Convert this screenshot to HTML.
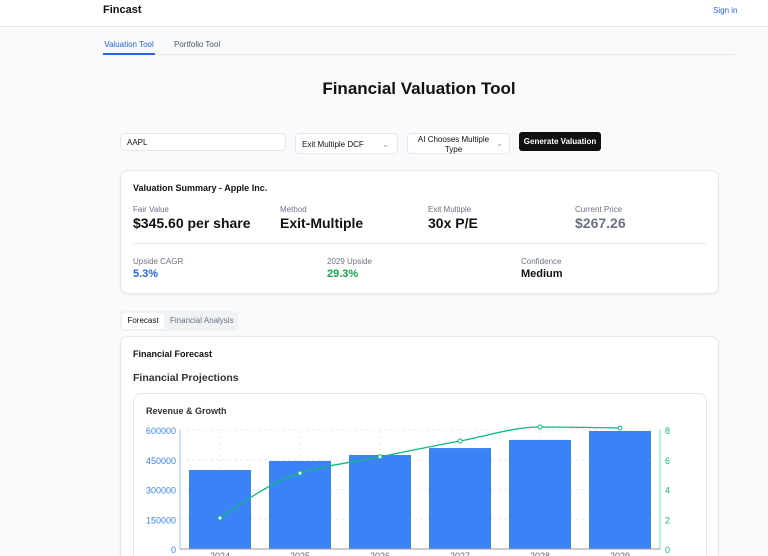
<!DOCTYPE html>
<html style="width:768px;height:556px;overflow:hidden"><head><meta charset="utf-8"><style>
*{box-sizing:border-box;margin:0;padding:0}
body{width:768px;height:556px;overflow:hidden;background:#f9fafb;font-family:"Liberation Sans",sans-serif;color:#111;position:relative}
.abs{position:absolute}
.header{left:0;top:0;width:768px;height:27px;background:#fff;border-bottom:1px solid #e5e7eb}
.card{background:#fff;border:1px solid #e5e7eb;border-radius:8px;box-shadow:0 1px 2px rgba(0,0,0,.06)}
.lbl{font-size:8px;color:#6b7280}
.val{font-size:14px;font-weight:bold}
.inp{background:#fff;border:1px solid #e5e7eb;border-radius:4px;font-size:8px;color:#111}
</style></head><body>
<div class="abs header">
<div class="abs" style="left:103px;top:4px;font-size:11px;font-weight:bold">Fincast</div>
<div class="abs" style="left:713px;top:6px;font-size:8px;color:#2563eb">Sign in</div>
</div>
<div class="abs" style="left:103px;top:54px;width:632px;height:1px;background:#e5e7eb"></div>
<div class="abs" style="left:103px;top:40px;width:52px;height:15px;border-bottom:2px solid #2563eb;font-size:8px;color:#2563eb;text-align:center">Valuation Tool</div>
<div class="abs" style="left:174px;top:40px;font-size:8px;color:#4b5563">Portfolio Tool</div>
<div class="abs" style="left:0;top:79px;width:838px;text-align:center;font-size:17px;font-weight:bold">Financial Valuation Tool</div>
<div class="abs inp" style="left:120px;top:133px;width:166px;height:18px;padding:4px 6px">AAPL</div>
<div class="abs inp" style="left:295px;top:133px;width:103px;height:21px;padding:6px 6px">Exit Multiple DCF<span style="position:absolute;right:8px;color:#999">⌄</span></div>
<div class="abs inp" style="left:407px;top:133px;width:103px;height:21px;padding:1px 16px 0 6px;text-align:center;line-height:10px">AI Chooses Multiple Type<span style="position:absolute;right:6px;top:5px;color:#999">⌄</span></div>
<div class="abs" style="left:519px;top:132px;width:82px;height:19px;background:#111;border-radius:3px;color:#fff;font-size:8px;font-weight:bold;text-align:center;line-height:19px">Generate Valuation</div>
<div class="abs card" style="left:120px;top:170px;width:599px;height:124px">
<div class="abs" style="left:12px;top:12px;font-size:9px;font-weight:bold">Valuation Summary - Apple Inc.</div>
<div class="abs lbl" style="left:12px;top:34px">Fair Value</div><div class="abs val" style="left:12px;top:44px">$345.60 per share</div>
<div class="abs lbl" style="left:159px;top:34px">Method</div><div class="abs val" style="left:159px;top:44px">Exit-Multiple</div>
<div class="abs lbl" style="left:307px;top:34px">Exit Multiple</div><div class="abs val" style="left:307px;top:44px">30x P/E</div>
<div class="abs lbl" style="left:454px;top:34px">Current Price</div><div class="abs val" style="left:454px;top:44px;color:#6b7280">$267.26</div>
<div class="abs" style="left:12px;top:72px;width:573px;height:1px;background:#e5e7eb"></div>
<div class="abs lbl" style="left:12px;top:86px">Upside CAGR</div><div class="abs" style="left:12px;top:97px;font-size:11px;font-weight:bold;color:#2563eb">5.3%</div>
<div class="abs lbl" style="left:206px;top:86px">2029 Upside</div><div class="abs" style="left:206px;top:97px;font-size:11px;font-weight:bold;color:#16a34a">29.3%</div>
<div class="abs lbl" style="left:400px;top:86px">Confidence</div><div class="abs" style="left:400px;top:97px;font-size:11px;font-weight:bold">Medium</div>
</div>
<div class="abs" style="left:120px;top:311px;width:118px;height:20px;background:#f1f2f4;border-radius:4px"></div>
<div class="abs" style="left:122px;top:313px;width:42px;height:16px;background:#fff;border-radius:3px;font-size:8px;text-align:center;line-height:16px">Forecast</div>
<div class="abs" style="left:170px;top:313px;font-size:8px;color:#6b7280;line-height:16px">Financial Analysis</div>
<div class="abs card" style="left:120px;top:336px;width:599px;height:220px;border-bottom:none;border-radius:8px 8px 0 0">
<div class="abs" style="left:12px;top:12px;font-size:9px;font-weight:bold">Financial Forecast</div>
<div class="abs" style="left:12px;top:35px;font-size:10.5px;font-weight:bold;color:#333">Financial Projections</div>
<div class="abs card" style="left:12px;top:56px;width:574px;height:163px;border-bottom:none;border-radius:8px 8px 0 0;box-shadow:none"></div>
</div>
<div class="abs" style="left:146px;top:406px;font-size:9px;font-weight:bold;color:#333">Revenue &amp; Growth</div>
<svg class="abs" style="left:0;top:0" width="768" height="556" id="chart"></svg>
<script>
const categories=["2024","2025","2026","2027","2028","2029"];
const revenue=[398000,444000,474000,509000,550000,595000];
const growth=[2.08,5.1,6.2,7.26,8.2,8.13];
const leftTicks=[0,150000,300000,450000,600000];
const rightTicks=[0,2,4,6,8];
const svg=document.getElementById('chart');const NS='http://www.w3.org/2000/svg';
const X0=180,X1=660,Y0=549,Y1=430;
const band=(X1-X0)/categories.length;
const xc=i=>X0+band*(i+0.5);
const yL=v=>Y0-(v/600000)*(Y0-Y1);
const yR=v=>Y0-(v/8)*(Y0-Y1);
function el(t,a){const e=document.createElementNS(NS,t);for(const k in a)e.setAttribute(k,a[k]);svg.appendChild(e);return e;}
leftTicks.forEach(t=>{const g=el('line',{x1:X0,x2:X1,y1:yL(t),y2:yL(t),stroke:'#eee','stroke-dasharray':'3 3'});

const tx=el('text',{x:X0-4,y:yL(t)+4,'text-anchor':'end','font-size':'9','fill':'#3b82f6','font-family':'Liberation Sans'});tx.textContent=t;
});
categories.forEach((c,i)=>{const g=el('line',{x1:xc(i),x2:xc(i),y1:Y1,y2:Y0,stroke:'#eee','stroke-dasharray':'3 3'});
});
rightTicks.forEach(t=>{const tx=el('text',{x:X1+5,y:yR(t)+4,'font-size':'9','fill':'#10b981','font-family':'Liberation Sans'});tx.textContent=t;
});
categories.forEach((c,i)=>{const b=el('rect',{x:xc(i)-31,y:yL(revenue[i]),width:62,height:Y0-yL(revenue[i]),fill:'#3b82f6'});

const tx=el('text',{x:xc(i),y:Y0+10,'text-anchor':'middle','font-size':'9','fill':'#666','font-family':'Liberation Sans'});tx.textContent=c;
});
el('line',{x1:X0,x2:X0,y1:Y1,y2:Y0,stroke:'#93c5fd'});
el('line',{x1:X1,x2:X1,y1:Y1,y2:Y0,stroke:'#6ee7b7'});
el('line',{x1:X0,x2:X1,y1:Y0,y2:Y0,stroke:'#999'});
const pts=growth.map((g,i)=>[xc(i),yR(g)]);
const n=pts.length,s=[],m=[];
for(let i=0;i<n-1;i++)s.push((pts[i+1][1]-pts[i][1])/(pts[i+1][0]-pts[i][0]));
m[0]=s[0];m[n-1]=s[n-2];
for(let i=1;i<n-1;i++)m[i]=(s[i-1]*s[i]<=0)?0:2/(1/s[i-1]+1/s[i]);
m[0]=(3*s[0]-m[1])/2;m[n-1]=(3*s[n-2]-m[n-2])/2;
let d='M'+pts[0][0]+','+pts[0][1];
for(let i=0;i<n-1;i++){const p=pts[i],q=pts[i+1],h=(q[0]-p[0])/3;d+=` C${p[0]+h},${p[1]+m[i]*h} ${q[0]-h},${q[1]-m[i+1]*h} ${q[0]},${q[1]}`;}
const ln=el('path',{d:d,fill:'none',stroke:'#10b981','stroke-width':'1.3'});

pts.forEach((p,i)=>{const c=el('circle',{cx:p[0],cy:p[1],r:2,fill:'#fff',stroke:'#10b981'});
});
</script>
</body></html>
